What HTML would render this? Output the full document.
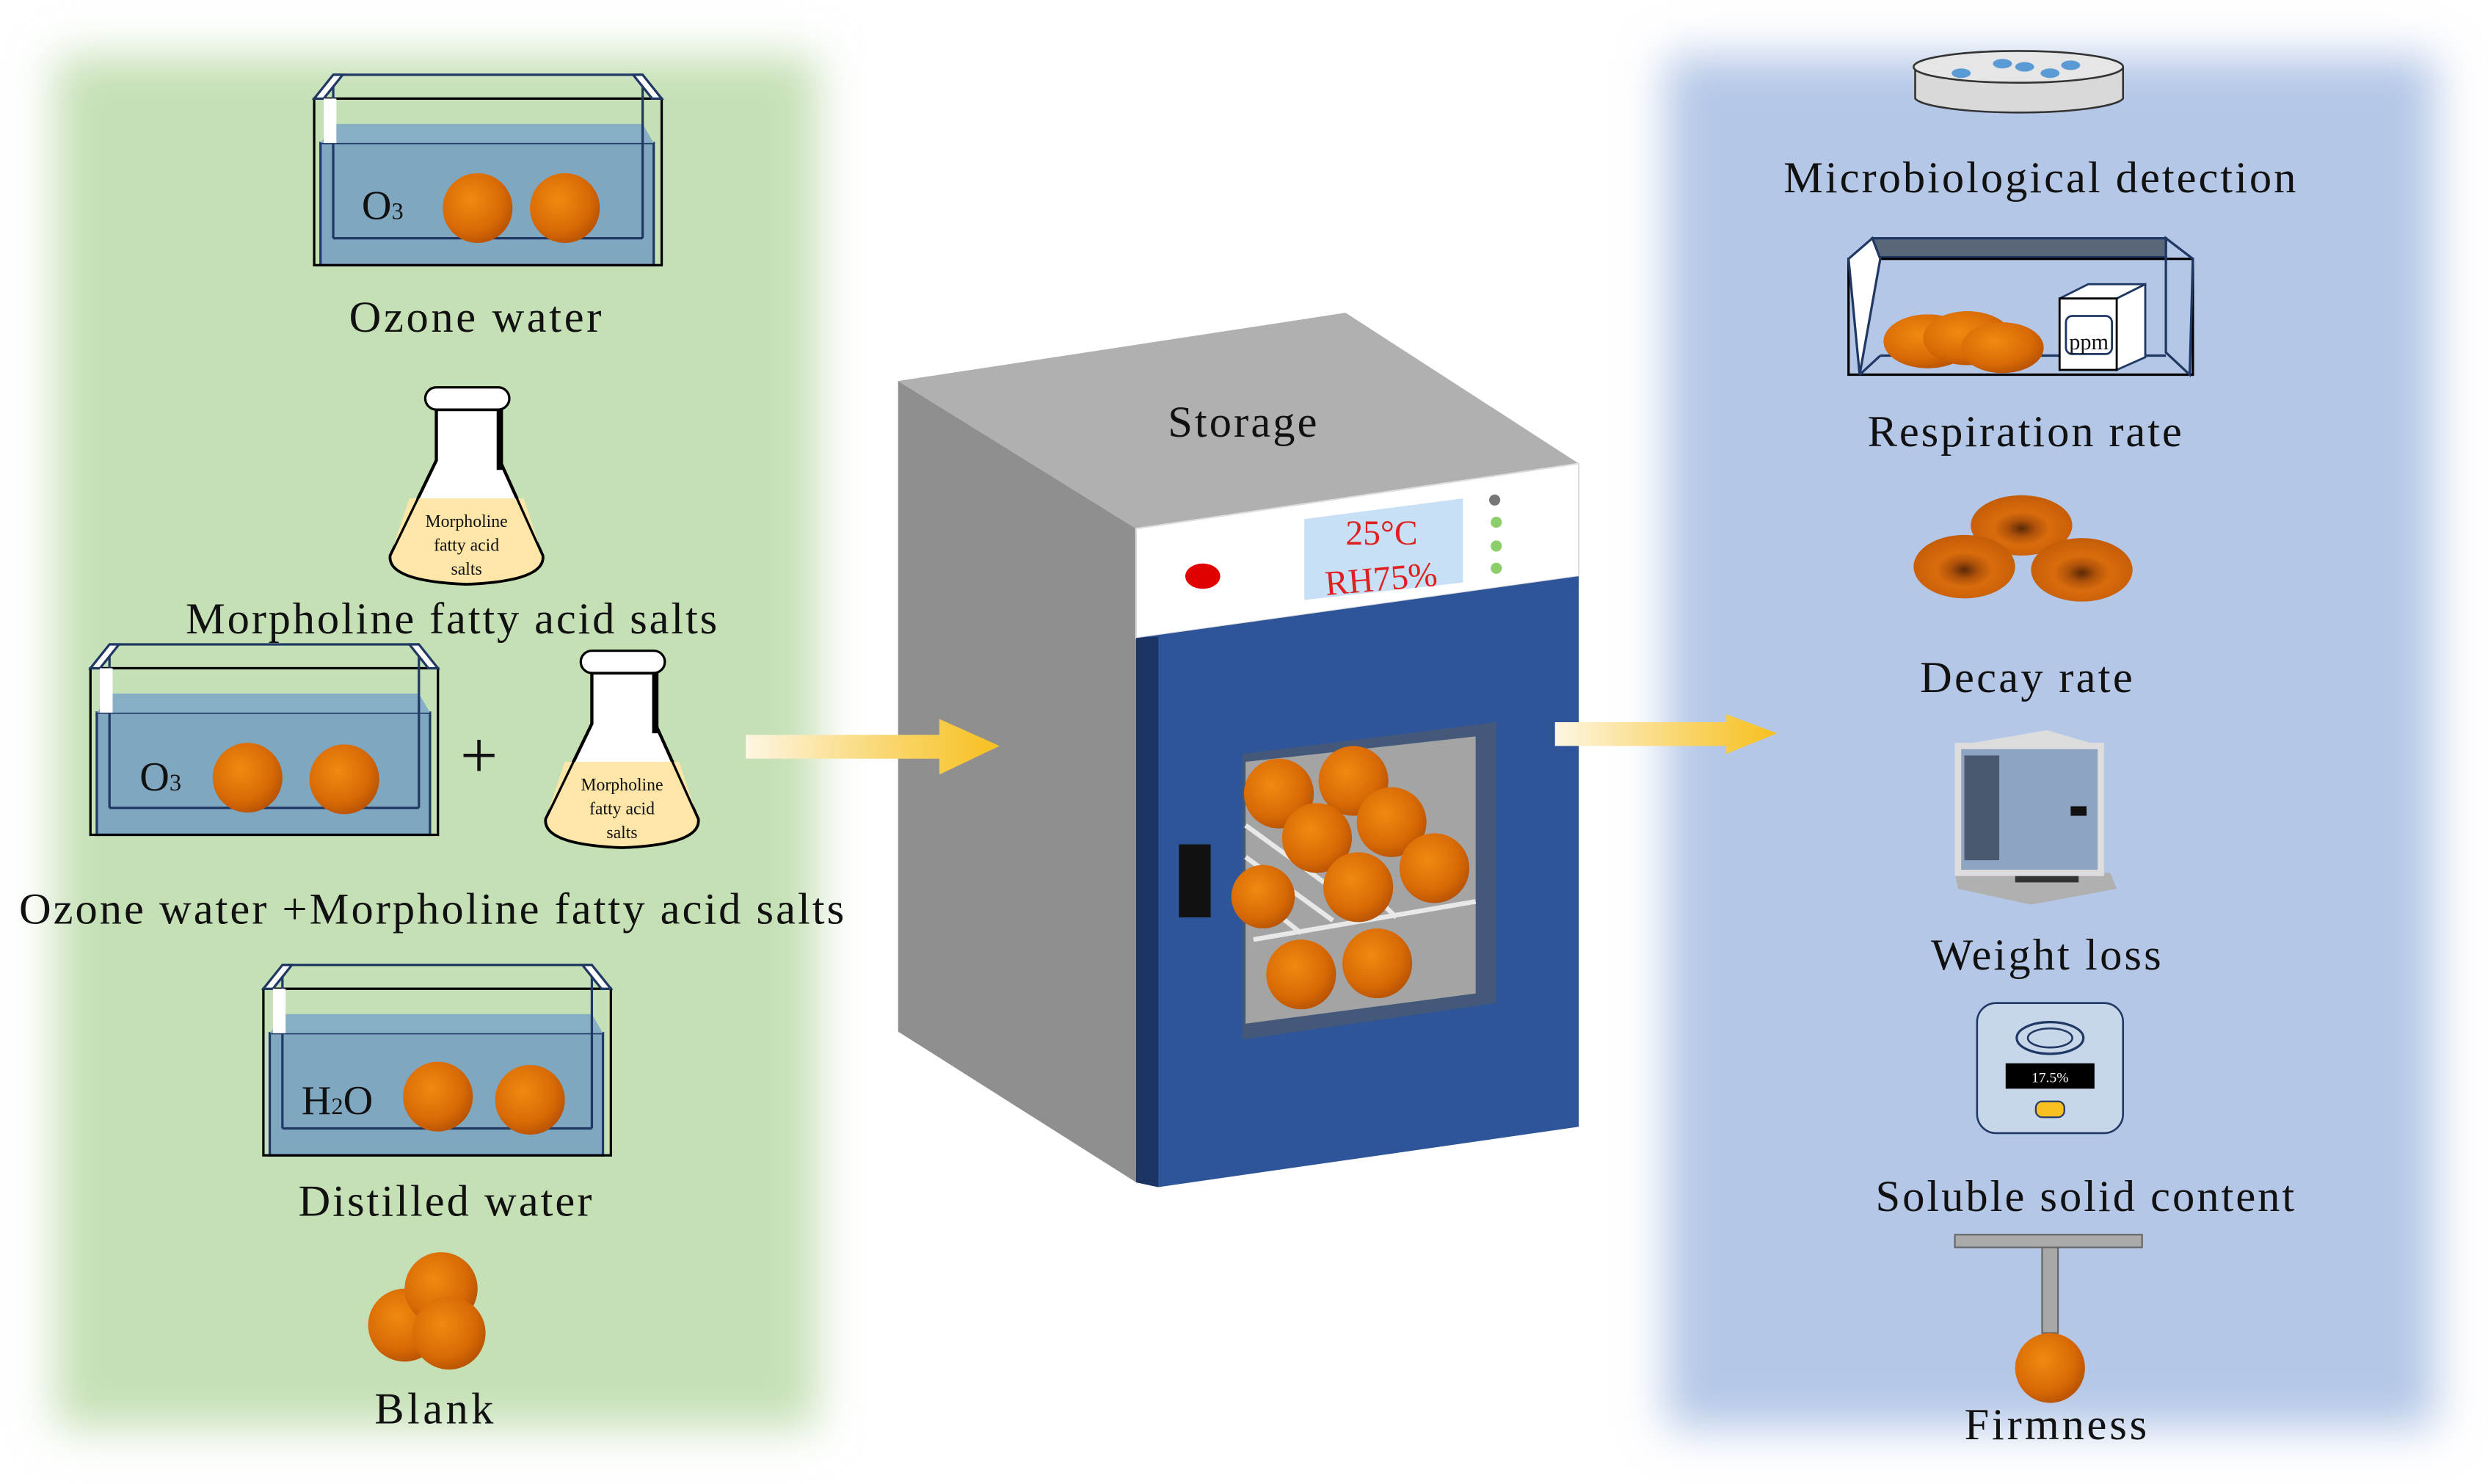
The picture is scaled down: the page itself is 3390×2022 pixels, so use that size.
<!DOCTYPE html>
<html><head><meta charset="utf-8"><style>
html,body{margin:0;padding:0;background:#fff;}
svg{display:block;}
text{font-family:"Liberation Serif",serif;fill:#111;}
</style></head><body>
<svg width="3390" height="2022" viewBox="0 0 1568 935" xmlns="http://www.w3.org/2000/svg">
<defs>
<filter id="blur" x="-20%" y="-20%" width="140%" height="140%"><feGaussianBlur stdDeviation="14"/></filter>
<radialGradient id="org" cx="40%" cy="38%" r="65%"><stop offset="0" stop-color="#f08a10"/><stop offset="0.7" stop-color="#d86a05"/><stop offset="1" stop-color="#b85304"/></radialGradient>
<radialGradient id="dec" cx="50%" cy="55%" r="55%"><stop offset="0" stop-color="#5a2a08"/><stop offset="0.25" stop-color="#b0520a"/><stop offset="0.5" stop-color="#d96c0c"/><stop offset="1" stop-color="#c45c08"/></radialGradient>
<linearGradient id="arr" x1="0" x2="1"><stop offset="0" stop-color="#fdf6e3"/><stop offset="0.6" stop-color="#f9d466"/><stop offset="1" stop-color="#f7c020"/></linearGradient>
</defs>
<rect width="1568" height="935" fill="#fff"/>
<rect x="35" y="35" width="480" height="865" fill="#c5e0b5" filter="url(#blur)"/>
<rect x="1050" y="35" width="485" height="865" fill="#b4c7e7" filter="url(#blur)"/>

<!-- Tank 1 -->
<g id="tank" stroke="#1f3864" stroke-width="1.5">
<rect x="202" y="90" width="210" height="77" fill="#7fa7c0"/>
<polygon points="202,90 211,78 405,78 412,90" fill="#86aec4" stroke="none"/>
<rect x="198" y="62" width="219" height="105" fill="none" stroke="#000"/>
<line x1="210" y1="47" x2="405" y2="47"/>
<line x1="210" y1="47" x2="210" y2="150"/><line x1="405" y1="47" x2="405" y2="150"/>
<line x1="210" y1="150" x2="405" y2="150"/>
<polygon points="198,62 210,47 216,47 204,62" fill="#fff"/>
<polygon points="417,62 405,47 399,47 411,62" fill="#fff"/>
<rect x="204" y="62" width="8" height="28" fill="#fff" stroke="none"/>
</g>
<text x="228" y="138" font-size="26">O<tspan font-size="15">3</tspan></text>
<circle cx="301" cy="131" r="22" fill="url(#org)"/><circle cx="356" cy="131" r="22" fill="url(#org)"/>
<text x="220" y="209" font-size="28" textLength="159">Ozone water</text>

<!-- Flask 1 -->
<g id="flask">
<g stroke="#000" stroke-width="2">
<path d="M275,258 L275,290 L246,350 Q244,366 294,368 Q344,366 342,350 L315,290 L315,258 Z" fill="#fff"/>
<path d="M258,314 L330,314 L342,350 Q344,366 294,368 Q244,366 246,350 Z" fill="#fde6a8" stroke="none"/>
<path d="M275,258 L275,290 L246,350 Q244,366 294,368 Q344,366 342,350 L315,290 L315,258" fill="none" stroke-width="1.5"/>
<line x1="315" y1="258" x2="315" y2="296" stroke-width="4"/>
<rect x="268" y="244" width="53" height="14" rx="7" fill="#fff" stroke-width="1.5"/>
</g>
<text x="294" y="332" font-size="11" text-anchor="middle">Morpholine</text>
<text x="294" y="347" font-size="11" text-anchor="middle">fatty acid</text>
<text x="294" y="362" font-size="11" text-anchor="middle">salts</text>
</g>
<text x="117" y="399" font-size="28" textLength="335">Morpholine fatty acid salts</text>

<!-- Tank 2 -->
<use href="#tank" transform="translate(-141,359)"/>
<text x="88" y="498" font-size="26">O<tspan font-size="15">3</tspan></text>
<circle cx="156" cy="490" r="22" fill="url(#org)"/><circle cx="217" cy="491" r="22" fill="url(#org)"/>
<text x="290" y="490" font-size="42">+</text>
<use href="#flask" transform="translate(98,166)"/>
<text x="12" y="582" font-size="28" textLength="520">Ozone water +Morpholine fatty acid salts</text>

<!-- Tank 3 -->
<use href="#tank" transform="translate(-32,561)"/>
<text x="190" y="702" font-size="26">H<tspan font-size="15">2</tspan>O</text>
<circle cx="276" cy="691" r="22" fill="url(#org)"/><circle cx="334" cy="693" r="22" fill="url(#org)"/>
<text x="188" y="766" font-size="28" textLength="185">Distilled water</text>

<!-- Blank -->
<circle cx="255" cy="835" r="23" fill="url(#org)"/>
<circle cx="278" cy="812" r="23" fill="url(#org)"/>
<circle cx="283" cy="840" r="23" fill="url(#org)"/>
<text x="236" y="897" font-size="28" textLength="75">Blank</text>

<!-- Incubator -->
<polygon points="566,240 716,333 716,745 566,650" fill="#8f8f8f"/>
<polygon points="566,240 848,197 995,292 716,333" fill="#b0b0b0"/>
<polygon points="716,333 995,292 995,363 716,402" fill="#fff" stroke="#ddd"/>
<polygon points="716,402 995,363 995,710 730,748 716,745" fill="#2e559a"/>
<polygon points="716,402 730,401 730,748 716,745" fill="#1c3464"/>
<text x="736" y="275" font-size="28" textLength="94">Storage</text>
<polygon points="822,327 922,314 922,367 822,378" fill="#c7e0f6"/>
<text x="848" y="343" font-size="22" style="fill:#e02020">25°C</text>
<text x="835" y="372" font-size="22" style="fill:#e02020" transform="rotate(-5 870 365)">RH75%</text>
<ellipse cx="758" cy="363" rx="11" ry="8" fill="#e00000"/>
<circle cx="942" cy="315" r="3.5" fill="#777"/>
<circle cx="943" cy="329" r="3.5" fill="#8ccf6a"/>
<circle cx="943" cy="344" r="3.5" fill="#8ccf6a"/>
<circle cx="943" cy="358" r="3.5" fill="#8ccf6a"/>
<polygon points="783,475 943,455 943,632 783,655" fill="#44597a"/>
<polygon points="785,480 930,464 930,626 785,645" fill="#a4a4a4"/>
<g stroke="#e8e8e8" stroke-width="3">
<line x1="785" y1="520" x2="840" y2="560"/><line x1="785" y1="540" x2="840" y2="580"/><line x1="785" y1="560" x2="820" y2="588"/>
<line x1="790" y1="592" x2="930" y2="568"/><line x1="840" y1="540" x2="880" y2="578"/>
</g>
<circle cx="806" cy="500" r="22" fill="url(#org)"/>
<circle cx="853" cy="492" r="22" fill="url(#org)"/>
<circle cx="877" cy="518" r="22" fill="url(#org)"/>
<circle cx="830" cy="528" r="22" fill="url(#org)"/>
<circle cx="904" cy="547" r="22" fill="url(#org)"/>
<circle cx="796" cy="565" r="20" fill="url(#org)"/>
<circle cx="856" cy="559" r="22" fill="url(#org)"/>
<circle cx="820" cy="614" r="22" fill="url(#org)"/>
<circle cx="868" cy="607" r="22" fill="url(#org)"/>
<rect x="743" y="532" width="20" height="46" fill="#111"/>

<!-- Arrows -->
<polygon points="470,463 592,463 592,453 630,470 592,488 592,478 470,478" fill="url(#arr)"/>
<polygon points="980,455 1088,455 1088,450 1120,462 1088,475 1088,470 980,470" fill="url(#arr)"/>

<!-- Right panel -->
<g stroke="#333" stroke-width="1.2">
<path d="M1207,42 L1207,62 A66,10 0 0 0 1338,62 L1338,42" fill="#d9d9d9"/>
<ellipse cx="1272" cy="42" rx="66" ry="10" fill="#e6e6e6"/>
</g>
<g fill="#5b9bd5">
<ellipse cx="1236" cy="46" rx="6" ry="3"/><ellipse cx="1262" cy="40" rx="6" ry="3"/><ellipse cx="1276" cy="42" rx="6" ry="3"/><ellipse cx="1292" cy="46" rx="6" ry="3"/><ellipse cx="1305" cy="41" rx="6" ry="3"/>
</g>
<text x="1124" y="121" font-size="28" textLength="323">Microbiological detection</text>

<g stroke="#1f3864" stroke-width="1.5">
<polygon points="1180,150 1365,150 1365,162 1180,162" fill="#596779"/>
<rect x="1165" y="163" width="217" height="73" fill="none" stroke="#000"/>
<polygon points="1165,163 1180,150 1185,163 1172,236" fill="#fff"/>
<polygon points="1382,163 1365,150 1365,222 1380,236" fill="none"/>
<line x1="1172" y1="236" x2="1185" y2="224"/><line x1="1185" y1="224" x2="1365" y2="224"/>
</g>
<ellipse cx="1215" cy="215" rx="28" ry="17" fill="url(#org)"/>
<ellipse cx="1240" cy="213" rx="28" ry="17" fill="url(#org)"/>
<ellipse cx="1262" cy="219" rx="26" ry="16" fill="url(#org)"/>
<g stroke="#1f3864" stroke-width="1.3">
<polygon points="1298,188 1334,188 1352,179 1316,179" fill="#fff"/>
<polygon points="1334,188 1352,179 1352,225 1334,233" fill="#fff"/>
<rect x="1298" y="188" width="36" height="45" fill="#fff" stroke="#000"/>
<rect x="1302" y="199" width="29" height="24" rx="4" fill="#fff"/>
</g>
<text x="1304" y="220" font-size="14">ppm</text>
<text x="1177" y="281" font-size="28" textLength="198">Respiration rate</text>

<ellipse cx="1274" cy="331" rx="32" ry="19" fill="url(#dec)"/>
<ellipse cx="1238" cy="357" rx="32" ry="20" fill="url(#dec)"/>
<ellipse cx="1312" cy="359" rx="32" ry="20" fill="url(#dec)"/>
<text x="1210" y="436" font-size="28" textLength="134">Decay rate</text>

<!-- balance -->
<polygon points="1232,550 1330,550 1334,560 1280,570 1234,560" fill="#b0b0b0"/>
<rect x="1234" y="470" width="90" height="80" fill="#8da4c2" stroke="#ddd" stroke-width="4"/>
<polygon points="1232,470 1290,460 1324,470" fill="#dcdcdc"/>
<rect x="1238" y="476" width="22" height="66" fill="#4a5870"/>
<rect x="1305" y="508" width="10" height="6" fill="#111"/>
<rect x="1270" y="552" width="40" height="4" fill="#333"/>
<text x="1217" y="611" font-size="28" textLength="145">Weight loss</text>

<rect x="1246" y="632" width="92" height="82" rx="12" fill="#c8d6ea" stroke="#1f3864" stroke-width="1.2"/>
<ellipse cx="1292" cy="654" rx="21" ry="10" fill="none" stroke="#1f3864" stroke-width="1.5"/>
<ellipse cx="1292" cy="654" rx="14" ry="6" fill="none" stroke="#1f3864" stroke-width="1.2"/>
<rect x="1264" y="670" width="56" height="16" fill="#000"/>
<text x="1292" y="682" font-size="9" text-anchor="middle" style="fill:#fff">17.5%</text>
<rect x="1283" y="694" width="18" height="10" rx="4" fill="#f7c020" stroke="#1f3864"/>
<text x="1182" y="763" font-size="28" textLength="264">Soluble solid content</text>

<rect x="1232" y="778" width="118" height="8" fill="#aaa" stroke="#666"/>
<rect x="1287" y="786" width="10" height="54" fill="#a8a8a8" stroke="#666"/>
<circle cx="1292" cy="862" r="22" fill="url(#org)"/>
<text x="1238" y="907" font-size="28" textLength="115">Firmness</text>
</svg>
</body></html>
